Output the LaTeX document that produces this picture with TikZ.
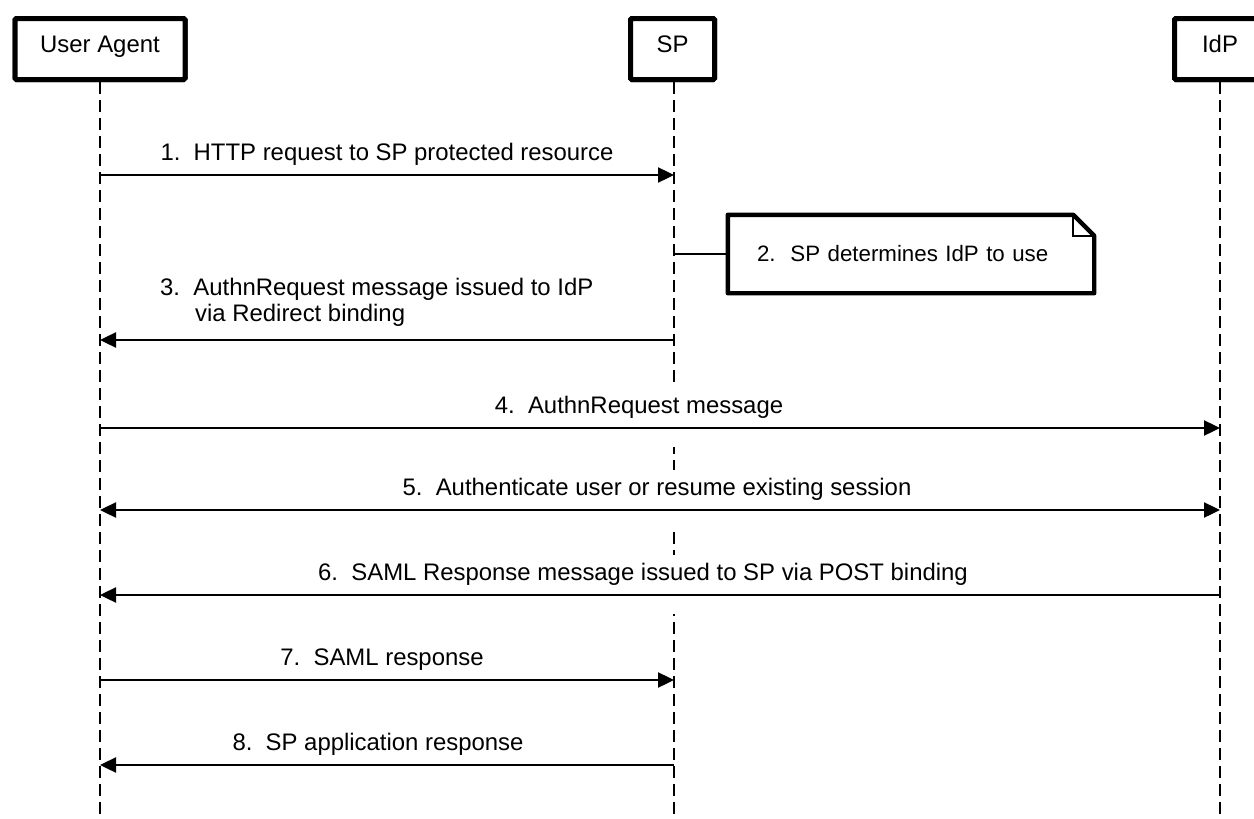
\documentclass[tikz,border=0pt]{standalone}
\usepackage{fontspec}
\setmainfont{Liberation Sans}
\usetikzlibrary{arrows.meta}
\begin{document}
\begin{tikzpicture}[x=1pt,y=-1pt,
  every node/.style={font=\fontsize{23.9}{26}\selectfont},
  participant/.style={draw, line width=5pt, fill=white, rounded corners=1.5pt,
    minimum height=61pt, inner sep=0pt, text height=12pt, text depth=4.6pt},
  lifeline/.style={line width=2.2pt, dash pattern=on 12pt off 6pt},
  msg/.style={line width=2.4pt, -{Triangle[length=16pt,width=15pt]}},
  twoway/.style={line width=2.4pt, {Triangle[length=16pt,width=15pt]}-{Triangle[length=16pt,width=15pt]}},
  msglabel/.style={fill=white, anchor=base, inner xsep=4pt, inner ysep=0pt,
    text height=25pt, text depth=34pt},
  notebox/.style={minimum width=366pt, minimum height=78pt, text width=308pt,
    inner xsep=29pt, inner ysep=0pt, align=left, font=\fontsize{22.3}{26}\selectfont},
  noteline/.style={line width=4.4pt, line join=round},
  notefold/.style={line width=1.8pt}
]
\useasboundingbox (0,0) rectangle (1254,819);
\clip (0,0) rectangle (1254,819);

% participants (placed first as anchors, redrawn on top at the end)
\path (100,49) node[participant, minimum width=170pt] (ua) {User Agent}
      (672.5,49) node[participant, minimum width=84pt] (sp) {SP}
      (1220,49) node[participant, minimum width=91pt] (idp) {IdP};

\coordinate (bottom) at (0,822);
\foreach \r/\y in {r1/175, r3/340, r4/428, r5/510, r6/595, r7/680, r8/765}
  \coordinate (\r) at (674,\y);

% lifelines
\draw[lifeline] (ua.south) -- (ua.south |- bottom);
\draw[lifeline] (sp.south -| r1) -- (r1 |- bottom);
\draw[lifeline] (idp.south) -- (idp.south |- bottom);

% message labels
\node[msglabel] (l1) at (387,160) {1.\ \ HTTP request to SP protected resource};
\node[anchor=base west, align=left, inner sep=0pt] (l3) at (160,321)
  {3.\ \ AuthnRequest message issued to IdP\\\hspace*{35pt}via Redirect binding};
\node[msglabel] (l4) at (639,413) {4.\ \ AuthnRequest message};
\node[msglabel] (l5) at (657,495) {5.\ \ Authenticate user or resume existing session};
\node[msglabel] (l6) at (643,580) {6.\ \ SAML Response message issued to SP via POST binding};
\node[msglabel] (l7) at (382,665) {7.\ \ SAML response};
\node[msglabel] (l8) at (378,750) {8.\ \ SP application response};

% messages
\draw[msg] (ua |- r1) -- (r1);
\draw[msg] (r3) -- (ua |- r3);
\draw[msg] (ua |- r4) -- (idp |- r4);
\draw[twoway] (ua |- r5) -- (idp |- r5);
\draw[msg] (idp |- r6) -- (ua |- r6);
\draw[msg] (ua |- r7) -- (r7);
\draw[msg] (r8) -- (ua |- r8);

% note attached to the SP lifeline
\node[notebox] (note) at (911,254) {2.\ \ SP determines IdP to use};
\draw[line width=2.2pt] (r1 |- note.west) -- (note.west);
\draw[noteline] (note.north west) -- ([xshift=-21pt]note.north east)
  -- ([yshift=-21pt]note.north east) -- (note.south east) -- (note.south west) -- cycle;
\draw[notefold] ([xshift=-21pt]note.north east) -- ([xshift=-21pt,yshift=-21pt]note.north east)
  -- ([yshift=-21pt]note.north east);

% participant boxes on top of the lifeline ends
\path (ua) node[participant, minimum width=170pt] {User Agent}
      (sp) node[participant, minimum width=84pt] {SP}
      (idp) node[participant, minimum width=91pt] {IdP};
\end{tikzpicture}
\end{document}
